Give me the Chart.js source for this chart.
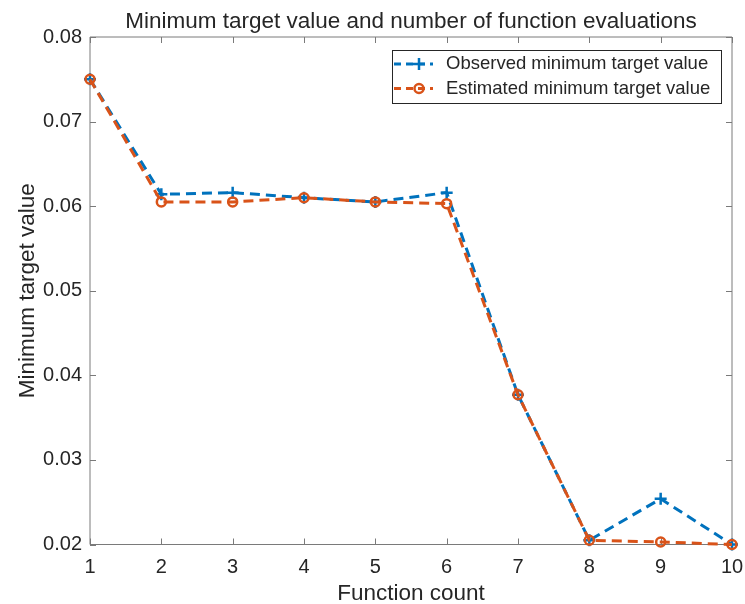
<!DOCTYPE html>
<html>
<head>
<meta charset="utf-8">
<script src="https://cdn.jsdelivr.net/npm/chart.js@4.4.0/dist/chart.umd.min.js"></script>
<style>
  html, body { margin: 0; padding: 0; background: #ffffff; }
  #wrap { width: 745px; height: 604px; }
</style>
</head>
<body>
<div id="wrap"><canvas id="c" width="745" height="604"></canvas></div>
<script>
// Values per function evaluation
const functionCount = [1, 2, 3, 4, 5, 6, 7, 8, 9, 10];
const observedMin  = [0.0750, 0.0614, 0.0616, 0.0610, 0.0605, 0.0616, 0.0377, 0.0205, 0.0254, 0.0200];
const estimatedMin = [0.0750, 0.0605, 0.0605, 0.0610, 0.0605, 0.0603, 0.0377, 0.0205, 0.0203, 0.0200];

// Axis ticks
const xTicks = [1, 2, 3, 4, 5, 6, 7, 8, 9, 10];
const yTicks = [0.02, 0.03, 0.04, 0.05, 0.06, 0.07, 0.08];

// Text
const chartTitle = 'Minimum target value and number of function evaluations';
const xTitle = 'Function count';
const yTitle = 'Minimum target value';
const seriesNames = ['Observed minimum target value', 'Estimated minimum target value'];

const BLUE = '#0072BD';
const ORANGE = '#D95319';
const INK = '#262626';
const FONT = '"Liberation Sans", Arial, Helvetica, sans-serif';

const toPoints = (vals) => vals.map((v, i) => ({ x: functionCount[i], y: v }));

// Box around the axes with inward ticks on all four sides
const axesBox = {
  id: 'axesBox',
  beforeDatasetsDraw(chart) {
    const { ctx, chartArea: a, scales: { x, y } } = chart;
    const tl = 6;
    ctx.save();
    ctx.strokeStyle = '#7a7a7a';
    ctx.lineWidth = 1;
    ctx.beginPath();
    ctx.rect(a.left, a.top, a.right - a.left, a.bottom - a.top);
    ctx.stroke();
    ctx.beginPath();
    xTicks.forEach(v => {
      const px = Math.round(x.getPixelForValue(v)) + 0.5;
      ctx.moveTo(px, a.bottom); ctx.lineTo(px, a.bottom - tl);
      ctx.moveTo(px, a.top); ctx.lineTo(px, a.top + tl);
    });
    yTicks.forEach(v => {
      const py = Math.round(y.getPixelForValue(v)) + 0.5;
      ctx.moveTo(a.left, py); ctx.lineTo(a.left + tl, py);
      ctx.moveTo(a.right, py); ctx.lineTo(a.right - tl, py);
    });
    ctx.stroke();
    ctx.restore();
  }
};

function drawMarker(ctx, style, cx, cy, color) {
  ctx.save();
  ctx.strokeStyle = color;
  ctx.lineWidth = 2.5;
  ctx.setLineDash([]);
  ctx.beginPath();
  if (style === 'cross') {
    ctx.moveTo(cx - 6, cy); ctx.lineTo(cx + 6, cy);
    ctx.moveTo(cx, cy - 6); ctx.lineTo(cx, cy + 6);
  } else {
    ctx.arc(cx, cy, 4.5, 0, Math.PI * 2);
  }
  ctx.stroke();
  ctx.restore();
}

// Title and the boxed legend in the upper right of the axes
const overlay = {
  id: 'overlay',
  afterDraw(chart) {
    const { ctx, chartArea: a } = chart;
    ctx.save();
    ctx.fillStyle = INK;
    ctx.font = '22.5px ' + FONT;
    ctx.textAlign = 'center';
    ctx.textBaseline = 'middle';
    ctx.fillText(chartTitle, (a.left + a.right) / 2, 22);

    const bx = 392, by = 50, bw = 329, bh = 53;
    ctx.fillStyle = '#ffffff';
    ctx.fillRect(bx, by, bw, bh);
    ctx.strokeStyle = INK;
    ctx.lineWidth = 1;
    ctx.strokeRect(bx + 0.5, by + 0.5, bw, bh);

    const rows = [
      { name: seriesNames[0], color: BLUE, style: 'cross', y: 64 },
      { name: seriesNames[1], color: ORANGE, style: 'circle', y: 88.5 }
    ];
    rows.forEach(r => {
      ctx.strokeStyle = r.color;
      ctx.lineWidth = 3;
      ctx.setLineDash([7, 5]);
      ctx.beginPath();
      ctx.moveTo(394, r.y); ctx.lineTo(433, r.y);
      ctx.stroke();
      ctx.setLineDash([]);
      drawMarker(ctx, r.style, 419, r.y, r.color);
      ctx.fillStyle = INK;
      ctx.font = '18.5px ' + FONT;
      ctx.textAlign = 'left';
      ctx.textBaseline = 'middle';
      ctx.fillText(r.name, 446, r.y);
    });
    ctx.restore();
  }
};

new Chart(document.getElementById('c'), {
  type: 'line',
  data: {
    datasets: [
      {
        label: seriesNames[0],
        data: toPoints(observedMin),
        borderColor: BLUE,
        backgroundColor: 'rgba(0,0,0,0)',
        borderWidth: 3,
        borderDash: [10, 6],
        pointStyle: 'cross',
        pointRadius: 6,
        pointBorderWidth: 2.5,
        pointBorderColor: BLUE,
        tension: 0,
        clip: false,
        order: 1
      },
      {
        label: seriesNames[1],
        data: toPoints(estimatedMin),
        borderColor: ORANGE,
        backgroundColor: 'rgba(0,0,0,0)',
        borderWidth: 3,
        borderDash: [10, 6],
        pointStyle: 'circle',
        pointRadius: 4.5,
        pointBorderWidth: 2.5,
        pointBorderColor: ORANGE,
        pointBackgroundColor: 'rgba(0,0,0,0)',
        tension: 0,
        clip: false,
        order: 0
      }
    ]
  },
  options: {
    responsive: false,
    devicePixelRatio: 1,
    animation: false,
    events: [],
    layout: { padding: { top: 37, right: 13, left: 0, bottom: 0 } },
    plugins: {
      legend: { display: false },
      title: { display: false },
      tooltip: { enabled: false }
    },
    scales: {
      x: {
        type: 'linear',
        min: 1,
        max: 10,
        afterBuildTicks: (s) => { s.ticks = xTicks.map(v => ({ value: v })); },
        afterFit: (s) => { s.height = 59.5; s.paddingLeft = 0; s.paddingRight = 0; },
        grid: { display: false, drawTicks: false },
        border: { display: false },
        ticks: {
          color: INK,
          font: { family: FONT, size: 20 },
          padding: 11,
          maxRotation: 0,
          autoSkip: false
        },
        title: {
          display: true,
          text: xTitle,
          color: INK,
          font: { family: FONT, size: 22.5, lineHeight: 1 },
          padding: { top: 0, bottom: -1 }
        }
      },
      y: {
        type: 'linear',
        min: 0.02,
        max: 0.08,
        afterBuildTicks: (s) => { s.ticks = yTicks.map(v => ({ value: v })); },
        afterFit: (s) => { s.width = 90; s.paddingTop = 0; s.paddingBottom = 0; },
        grid: { display: false, drawTicks: false },
        border: { display: false },
        ticks: {
          color: INK,
          font: { family: FONT, size: 20 },
          padding: 8,
          callback: (v) => Number(v).toFixed(2)
        },
        title: {
          display: true,
          text: yTitle,
          color: INK,
          font: { family: FONT, size: 22.5, lineHeight: 1 },
          padding: { top: 17, bottom: 0 }
        }
      }
    }
  },
  plugins: [axesBox, overlay]
});
</script>
</body>
</html>
